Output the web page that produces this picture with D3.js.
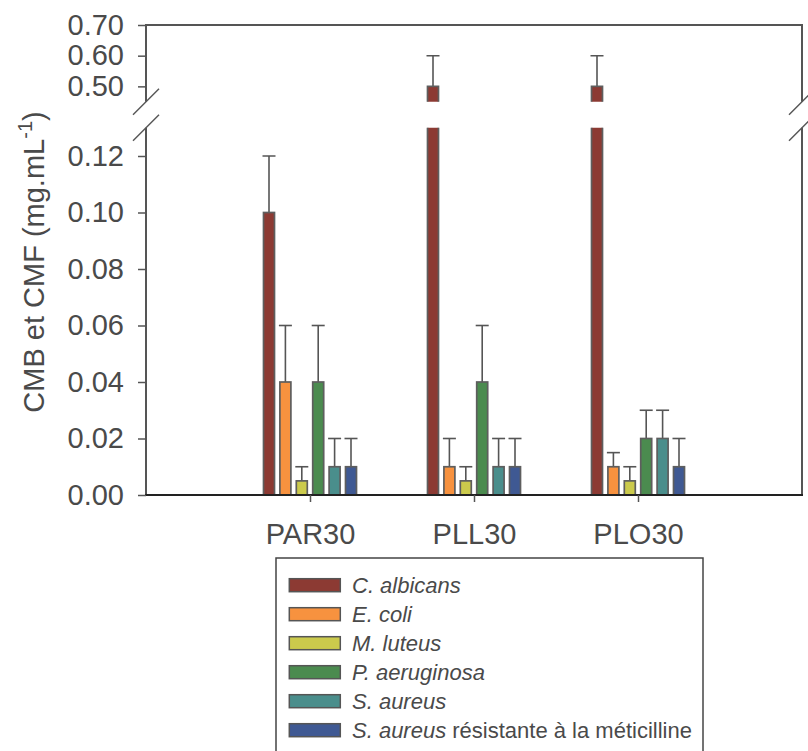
<!DOCTYPE html>
<html>
<head>
<meta charset="utf-8">
<script src="https://cdn.jsdelivr.net/npm/d3@7"></script>
<style>
  html, body { margin: 0; padding: 0; background: #fff; }
  svg { display: block; font-family: "Liberation Sans", Arial, sans-serif; }
</style>
</head>
<body>
<svg id="chart" width="808" height="751"></svg>
<script>
// ---- data ----
const groups = ["PAR30", "PLL30", "PLO30"];
const speciesItalic = ["C. albicans", "E. coli", "M. luteus", "P. aeruginosa", "S. aureus", "S. aureus"];
const speciesPlain = ["", "", "", "", "", " résistante à la méticilline"];
const speciesColors = ["#8c3a33", "#f7923f", "#cbca4c", "#4b8b4f", "#4a8e8c", "#3f5993"];
// mean values per species, one per group (PAR30, PLL30, PLO30)
const cAlbicans = [0.10, 0.50, 0.50];
const eColi = [0.04, 0.01, 0.01];
const mLuteus = [0.005, 0.005, 0.005];
const pAeruginosa = [0.04, 0.04, 0.02];
const sAureus = [0.01, 0.01, 0.02];
const sAureusMR = [0.01, 0.01, 0.01];
// upper error values
const cAlbicansErr = [0.02, 0.10, 0.10];
const eColiErr = [0.02, 0.01, 0.005];
const mLuteusErr = [0.005, 0.005, 0.005];
const pAeruginosaErr = [0.02, 0.02, 0.01];
const sAureusErr = [0.01, 0.01, 0.01];
const sAureusMRErr = [0.01, 0.01, 0.01];
const bottomTicks = [0, 0.02, 0.04, 0.06, 0.08, 0.10, 0.12];
const topTicks = [0.50, 0.60, 0.70];
const bottomDomain = [0, 0.13];
const topDomain = [0.45, 0.70];

const seriesValues = [cAlbicans, eColi, mLuteus, pAeruginosa, sAureus, sAureusMR];
const seriesErrors = [cAlbicansErr, eColiErr, mLuteusErr, pAeruginosaErr, sAureusErr, sAureusMRErr];

// ---- layout ----
const svg = d3.select("#chart");
const left = 146, right = 802;
const topY = 25, topBottom = 101.7, botTop = 127.75, botY = 495;
const axisColor = "#555";
const textColor = "#4a4a4a";

const x = d3.scaleLinear().domain([0, groups.length + 1]).range([left, right]);
const yT = d3.scaleLinear().domain(topDomain).range([topBottom, topY]);
const yB = d3.scaleLinear().domain(bottomDomain).range([botY, botTop]);

const defs = svg.append("defs");
defs.append("clipPath").attr("id", "clipTop").append("rect")
  .attr("x", left).attr("y", topY).attr("width", right - left).attr("height", topBottom - topY);
defs.append("clipPath").attr("id", "clipBot").append("rect")
  .attr("x", left).attr("y", botTop).attr("width", right - left).attr("height", botY - botTop);

const step = 0.1, barW = 0.067;
const bars = [];
seriesValues.forEach((vals, si) => {
  vals.forEach((v, gi) => {
    bars.push({ si, gi, v, e: seriesErrors[si][gi], xc: (gi + 1) + (si - 2.5) * step });
  });
});

// error bars + bars
[[yT, "clipTop", topDomain], [yB, "clipBot", bottomDomain]].forEach(([ys, clip, dom]) => {
  const g = svg.append("g").attr("clip-path", `url(#${clip})`);
  bars.forEach(b => {
    const top = b.v + b.e;
    if (top > dom[0] && top <= dom[1] + 1e-9 && b.v <= dom[1]) {
      const xc = x(b.xc);
      g.append("line").attr("x1", xc).attr("x2", xc).attr("y1", ys(b.v)).attr("y2", ys(top))
        .attr("stroke", axisColor).attr("stroke-width", 1.6);
      g.append("line").attr("x1", xc - 6.5).attr("x2", xc + 6.5).attr("y1", ys(top)).attr("y2", ys(top))
        .attr("stroke", axisColor).attr("stroke-width", 1.6);
    }
  });
  bars.forEach(b => {
    if (b.v <= dom[0]) return;
    const y0 = ys(Math.max(dom[0], 0)) + (dom[0] > 0 ? 3 : 0);
    const y1 = Math.max(ys(b.v), ys(dom[1]) - 3);
    g.append("rect")
      .attr("x", x(b.xc - barW / 2)).attr("width", x(barW) - x(0))
      .attr("y", y1).attr("height", y0 - y1)
      .attr("fill", speciesColors[b.si])
      .attr("stroke", "#5e5e5e").attr("stroke-width", 1.7);
  });
});

// frame lines
const frame = svg.append("g").attr("stroke", axisColor).attr("stroke-width", 2).attr("fill", "none");
frame.append("line").attr("x1", left).attr("x2", right).attr("y1", topY).attr("y2", topY);
[left, right].forEach(xx => {
  frame.append("line").attr("x1", xx).attr("x2", xx).attr("y1", topY - 1).attr("y2", topBottom);
  frame.append("line").attr("x1", xx).attr("x2", xx).attr("y1", botTop).attr("y2", botY);
  [topBottom, botTop].forEach(yy => {
    frame.append("line").attr("x1", xx - 13).attr("x2", xx + 13).attr("y1", yy + 13).attr("y2", yy - 13)
      .attr("stroke-width", 1.5);
  });
});
svg.append("line").attr("x1", left - 1).attr("x2", right + 1).attr("y1", botY).attr("y2", botY)
  .attr("stroke", "#222").attr("stroke-width", 2.2);

// y axes
function styleAxis(g) {
  g.select(".domain").remove();
  g.selectAll(".tick line").attr("stroke", axisColor).attr("stroke-width", 1.5);
  g.selectAll(".tick text").attr("fill", textColor).style("font-size", "29px")
    .style("font-family", '"Liberation Sans", Arial, sans-serif');
}
svg.append("g").attr("transform", `translate(${left},0)`)
  .call(d3.axisLeft(yT).tickValues(topTicks).tickFormat(d3.format(".2f")).tickSize(8).tickPadding(14))
  .call(styleAxis);
svg.append("g").attr("transform", `translate(${left},0)`)
  .call(d3.axisLeft(yB).tickValues(bottomTicks).tickFormat(d3.format(".2f")).tickSize(8).tickPadding(14))
  .call(styleAxis);

// x axis
svg.append("g").attr("transform", `translate(0,${botY})`)
  .call(d3.axisBottom(x).tickValues(groups.map((d, i) => i + 1)).tickFormat(i => groups[i - 1]).tickSize(7).tickPadding(21))
  .call(styleAxis);

// y label
const yl = svg.append("text")
  .attr("transform", "translate(44,262) rotate(-90)")
  .attr("text-anchor", "middle")
  .attr("fill", textColor)
  .style("font-size", "29px");
yl.append("tspan").text("CMB et CMF (mg.mL");
yl.append("tspan").text("-1").style("font-size", "20px").attr("dy", -12);
yl.append("tspan").text(")").attr("dy", 12);

// legend
const lg = svg.append("g");
lg.append("rect").attr("x", 276).attr("y", 558).attr("width", 427).attr("height", 210)
  .attr("fill", "#fff").attr("stroke", "#444").attr("stroke-width", 1.5);
speciesItalic.forEach((name, i) => {
  const yy = 578.7 + i * 29;
  lg.append("rect").attr("x", 289.3).attr("y", yy).attr("width", 51).attr("height", 13)
    .attr("fill", speciesColors[i]).attr("stroke", "#555").attr("stroke-width", 1.5);
  const t = lg.append("text").attr("x", 352).attr("y", yy + 6.5 + 8)
    .attr("fill", textColor).style("font-size", "22px");
  t.append("tspan").text(name).style("font-style", "italic");
  if (speciesPlain[i]) t.append("tspan").text(speciesPlain[i]);
});
</script>
</body>
</html>
